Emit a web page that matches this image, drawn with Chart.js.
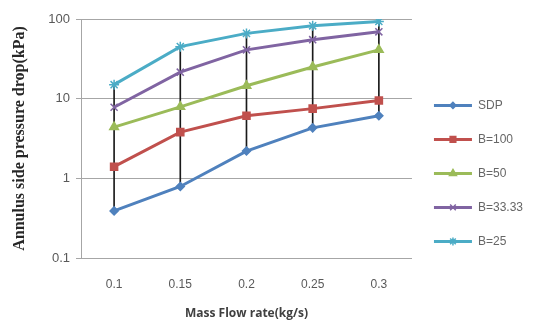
<!DOCTYPE html>
<html>
<head>
<meta charset="utf-8">
<script src="https://cdn.jsdelivr.net/npm/chart.js@4/dist/chart.umd.min.js"></script>
<style>
  html, body { margin: 0; padding: 0; background: #fff; }
  #wrap { width: 547px; height: 323px; }
</style>
</head>
<body>
<div id="wrap"><canvas id="chart"></canvas></div>
<script>
// data
const flowRates = ['0.1', '0.15', '0.2', '0.25', '0.3'];
const sdp = [0.39, 0.79, 2.2, 4.3, 6.1];
const b100 = [1.4, 3.8, 6.1, 7.5, 9.5];
const b50 = [4.4, 7.9, 14.5, 25, 41];
const b33 = [7.8, 21.5, 41, 55, 69];
const b25 = [15, 45, 66, 82, 93];
const yTicks = [0.1, 1, 10, 100];

const series = [
  { label: 'SDP', data: sdp, color: '#4f81bd', style: 'rectRot', radius: 4 },
  { label: 'B=100', data: b100, color: '#c0504d', style: 'rect', radius: 5 },
  { label: 'B=50', data: b50, color: '#9bbb59', style: 'triangle', radius: 5 },
  { label: 'B=33.33', data: b33, color: '#8064a2', style: 'crossRot', radius: 5 },
  { label: 'B=25', data: b25, color: '#4bacc6', style: 'star', radius: 5 }
];

// high-low lines between lowest and highest series
const highLow = flowRates.map((f, i) => {
  const vals = series.map(s => s.data[i]);
  return [Math.min(...vals), Math.max(...vals)];
});

const lineSets = series.map(s => ({
  type: 'line',
  label: s.label,
  data: s.data,
  borderColor: s.color,
  backgroundColor: s.color,
  borderWidth: 3,
  pointStyle: s.style,
  pointRadius: s.radius,
  pointBorderColor: s.color,
  pointBackgroundColor: s.color,
  pointBorderWidth: 1.5,
  tension: 0,
  order: 1
}));

const legendMarks = {
  id: 'legendMarks',
  afterDraw(chart) {
    const lg = chart.legend;
    if (!lg || !lg.legendHitBoxes) return;
    const ctx = chart.ctx;
    lg.legendHitBoxes.forEach((box, i) => {
      const s = series[i];
      if (!s) return;
      const bw = lg.options.labels.boxWidth;
      ctx.save();
      ctx.fillStyle = s.color;
      ctx.strokeStyle = s.color;
      ctx.lineWidth = 1.5;
      Chart.helpers.drawPoint(ctx, { pointStyle: s.style, radius: s.radius - 1, borderWidth: 1.5 },
        box.left + bw / 2, box.top + box.height / 2);
      ctx.restore();
    });
  }
};

new Chart(document.getElementById('chart'), {
  type: 'bar',
  data: {
    labels: flowRates,
    datasets: [
      ...lineSets,
      {
        type: 'bar',
        label: 'hl',
        data: highLow,
        backgroundColor: '#1a1a1a',
        barThickness: 1,
        order: 10
      }
    ]
  },
  options: {
    responsive: true,
    maintainAspectRatio: false,
    animation: false,
    layout: { padding: { top: 19, right: 14, bottom: 0, left: 6 } },
    scales: {
      x: {
        offset: true,
        grid: { display: false, drawTicks: false },
        border: { color: '#a6a6a6' },
        afterFit: axis => { axis.height = 65; },
        ticks: { color: '#595959', font: { family: 'Liberation Sans', size: 12 }, padding: 19 },
        title: {
          display: true,
          text: 'Mass Flow rate(kg/s)',
          color: '#404040',
          font: { family: 'Open Sans', size: 12, weight: 'bold' },
          padding: { top: 4, bottom: 2 }
        }
      },
      y: {
        type: 'logarithmic',
        min: 0.1,
        max: 100,
        afterBuildTicks: axis => { axis.ticks = yTicks.map(v => ({ value: v })); },
        afterFit: axis => { axis.width = 75; },
        grid: { color: '#a6a6a6', tickLength: 5 },
        border: { color: '#a6a6a6' },
        ticks: {
          color: '#595959',
          font: { family: 'Liberation Sans', size: 13 },
          padding: 6,
          callback: v => String(v)
        },
        title: {
          display: true,
          text: 'Annulus side pressure drop(kPa)',
          color: '#262626',
          font: { family: 'Liberation Serif', size: 16, weight: 'bold' },
          padding: { top: 4, bottom: 4 }
        }
      }
    },
    plugins: {
      tooltip: { enabled: false },
      legend: {
        position: 'right',
        title: { display: true, text: ' ', font: { size: 4 }, padding: 0 },
        labels: {
          boxWidth: 38,
          boxHeight: 3,
          padding: 22,
          color: '#404040',
          font: { family: 'Liberation Sans', size: 12 },
          generateLabels: chart => series.map((s, i) => ({
            text: s.label,
            fillStyle: s.color,
            strokeStyle: s.color,
            lineWidth: 0,
            datasetIndex: i
          }))
        }
      }
    }
  },
  plugins: [legendMarks]
});
</script>
</body>
</html>
